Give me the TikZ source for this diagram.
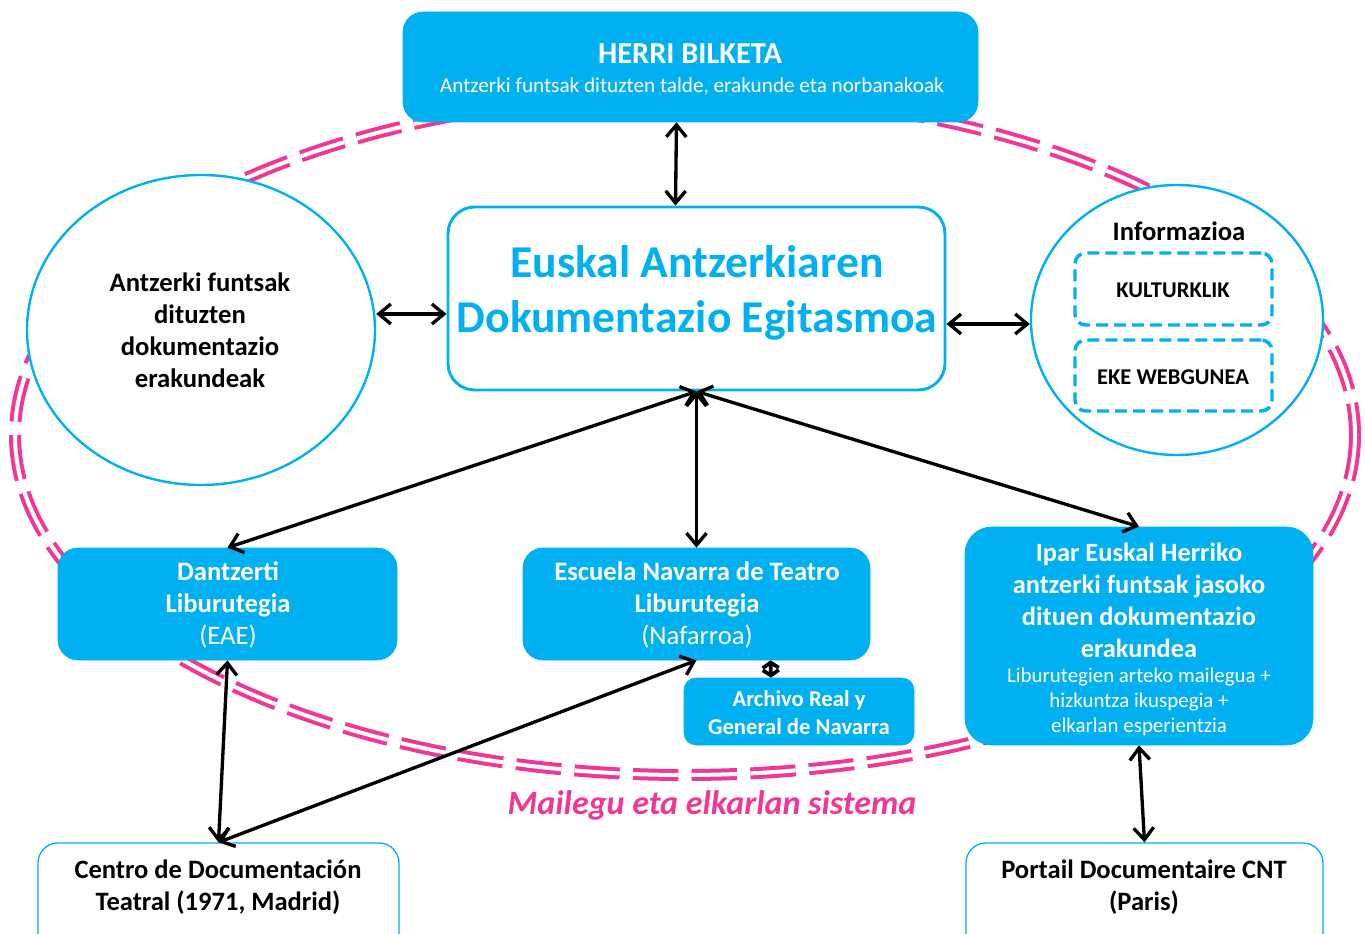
\documentclass[tikz,border=0pt]{standalone}
\usepackage{fontspec}
\setmainfont{Carlito}
\usetikzlibrary{shapes.geometric,arrows.meta,fit,calc}
\definecolor{ablue}{RGB}{0,176,240}
\definecolor{apink}{RGB}{240,55,150}
\begin{document}
\begin{tikzpicture}[x=0.75pt,y=-0.75pt,
 fbox/.style={fill=ablue, draw=ablue, rounded corners=15pt, inner sep=0pt, line width=0.5pt},
 wbox/.style={fill=white, draw=ablue, rounded corners=15pt, inner sep=0pt, line width=1pt},
 circ/.style={ellipse, draw=ablue, fill=white, line width=1.8pt, inner sep=0pt},
 dbox/.style={draw=ablue, dash pattern=on 9pt off 4.5pt, rounded corners=8pt, line width=2.6pt, inner sep=0pt},
 txt/.style={inner sep=0pt, align=center},
 arr/.style={line width=2.5pt, {Straight Barb[length=9pt,width=15pt]}-{Straight Barb[length=9pt,width=15pt]}},
 sarr/.style={line width=2.8pt, {Straight Barb[length=4pt,width=12pt]}-{Straight Barb[length=4pt,width=12pt]}},
]
\clip (0,0) rectangle (1365,934);
\useasboundingbox (0,0) rectangle (1365,934);
\fill[white] (0,0) rectangle (1365,934);

% loan system ring
\draw[apink, line width=3pt, double=white, double distance=3pt, dash pattern=on 34pt off 10pt]
  (685,435) ellipse [x radius=670, y radius=340];

% boxes
\node[fbox, fit={(403,12) (978,122)}] (top) {};
\node[wbox, line width=2.2pt, rounded corners=20pt, fit={(448,207) (945,390)}] (cb) {};
\node[circ, minimum width=348*0.75pt, minimum height=310*0.75pt] (lc) at (201,330) {};
\node[circ, minimum width=292*0.75pt, minimum height=270*0.75pt] (rc) at (1177,320) {};
\node[dbox, fit={(1075,253) (1272,325)}] (kb) {};
\node[dbox, fit={(1075,340) (1272,411)}] (eb) {};
\node[fbox, fit={(58,548) (397,660)}] (d) {};
\node[fbox, fit={(523,548) (870,660)}] (e) {};
\node[fbox, rounded corners=9pt, fit={(684,678) (914,745)}] (arch) {};
\node[fbox, rounded corners=20pt, fit={(965,527) (1313,745)}] (i) {};
\node[wbox, fit={(38,843) (399,960)}] (cen) {};
\node[wbox, fit={(966,843) (1323,960)}] (por) {};

% texts
\node[txt, text=white, font=\bfseries\fontsize{22.8}{26}\selectfont] (tTop1) at (690,54) {HERRI BILKETA};
\node[txt, text=white, font=\fontsize{15.9}{19}\selectfont] (tTop2) at (692,86) {Antzerki funtsak dituzten talde, erakunde eta norbanakoak};
\node[txt, text=ablue, font=\bfseries\fontsize{34.2}{41.5}\selectfont] (tcb) at (697,293) {Euskal Antzerkiaren\\Dokumentazio Egitasmoa};
\node[txt, font=\bfseries\fontsize{20}{24}\selectfont] (tlc) at (200,330) {Antzerki funtsak\\dituzten\\dokumentazio\\erakundeak};
\node[txt, font=\bfseries\fontsize{20}{24}\selectfont] (trc) at (1179,231) {Informazioa};
\node[txt, font=\bfseries\fontsize{16.9}{20}\selectfont] (tkb) at (1173,290) {KULTURKLIK};
\node[txt, font=\bfseries\fontsize{16.9}{20}\selectfont] (teb) at (1173,377) {EKE WEBGUNEA};
\node[txt, text=white, font=\bfseries\fontsize{20}{24}\selectfont] (td) at (228,605) {Dantzerti\\Liburutegia\\{\mdseries (EAE)}};
\node[txt, text=white, font=\bfseries\fontsize{20}{24}\selectfont] (te) at (697,605) {Escuela Navarra de Teatro\\Liburutegia\\{\mdseries (Nafarroa)}};
\node[txt, text=white, font=\bfseries\fontsize{17}{21}\selectfont] (tarch) at (799,713) {Archivo Real y\\General de Navarra};
\node[txt, text=white, font=\bfseries\fontsize{19.8}{24}\selectfont] (ti1) at (1139,600) {Ipar Euskal Herriko\\antzerki funtsak jasoko\\dituen dokumentazio\\erakundea};
\node[txt, text=white, font=\fontsize{15.7}{18.75}\selectfont] (ti2) at (1139,702) {Liburutegien arteko mailegua +\\hizkuntza ikuspegia +\\elkarlan esperientzia};
\node[txt, font=\bfseries\fontsize{19.9}{24}\selectfont] (tcen) at (218,887) {Centro de Documentación\\Teatral (1971, Madrid)};
\node[txt, font=\bfseries\fontsize{19.9}{24}\selectfont] (tpor) at (1144,887) {Portail Documentaire CNT\\(Paris)};
\node[txt, text=apink, font=\bfseries\itshape\fontsize{25.5}{30}\selectfont] (tmail) at (712,805) {Mailegu eta elkarlan sistema};

% connectors
\draw[arr] ($(top.south)+(-14,0)$) -- ($(cb.north)+(-21,0)$);
\draw[arr] ($(lc.east)+(0,-16)$) -- ($(cb.west)+(0,15.5)$);
\draw[arr] ($(cb.east)+(0,25.5)$) -- ($(rc.west)+(0,4)$);
\draw[arr] (cb.south) -- (d.north);
\draw[arr] (cb.south) -- (e.north);
\draw[arr] (cb.south) -- (i.north);
\draw[arr] (d.south) -- (cen.north);
\draw[arr] (cen.north) -- (e.south);
\draw[sarr] ($(e.south)+(74,0)$) -- ($(arch.north)+(-28,0)$);
\draw[arr] (i.south) -- (por.north);
\end{tikzpicture}
\end{document}
